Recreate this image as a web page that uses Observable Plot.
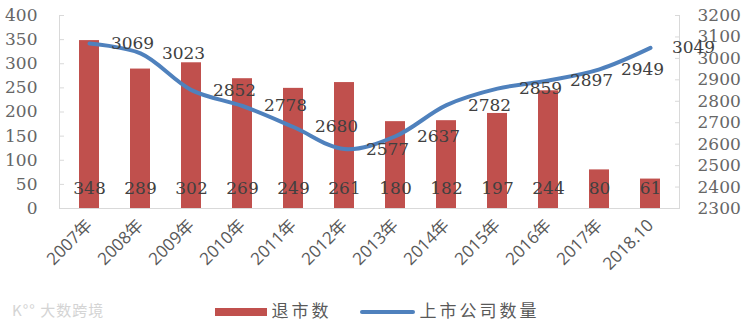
<!DOCTYPE html>
<html><head><meta charset="utf-8">
<script src="https://cdn.jsdelivr.net/npm/d3@7"></script>
<script src="https://cdn.jsdelivr.net/npm/@observablehq/plot@0.6"></script>
<style>
body{margin:0;background:#fff;}
#wrap{position:relative;width:754px;height:322px;overflow:hidden;}
#legend{position:absolute;left:0;top:295px;width:754px;height:28px;display:flex;justify-content:center;align-items:center;font-family:"Noto Sans CJK SC","Noto Sans",sans-serif;font-size:17px;color:#595959;letter-spacing:3px;}
#legend .item{display:flex;align-items:center;margin:0 14px;}
#legend .sw-bar{width:52px;height:8px;background:#C0504D;margin-right:5px;margin-top:6px;}
#legend .sw-line{width:55px;height:4px;border-radius:2px;background:#4F81BD;margin-right:5px;margin-top:6px;}
#mark{position:absolute;left:12px;top:299px;font-family:"Noto Sans CJK SC",sans-serif;font-size:15px;color:#d4d4d4;letter-spacing:1px;}
</style></head><body>
<div id="wrap"><div id="chart"></div>
<div id="legend"><div class="item"><span class="sw-bar"></span>退市数</div><div class="item"><span class="sw-line"></span>上市公司数量</div></div>
<div id="mark">K°° 大数跨境</div>
</div>
<script>
const years = ["2007年","2008年","2009年","2010年","2011年","2012年","2013年","2014年","2015年","2016年","2017年","2018.10"];
const delisted = [348,289,302,269,249,261,180,182,197,244,80,61];
const listed = [3069,3023,2852,2778,2680,2577,2637,2782,2859,2897,2949,3049];
const leftTicks = [0,50,100,150,200,250,300,350,400];
const rightTicks = [2300,2400,2500,2600,2700,2800,2900,3000,3100,3200];
const rMin = 2300, rMax = 3200, lMax = 400;
const toLeft = v => (v - rMin) / (rMax - rMin) * lMax;
const fromLeft = d => String(Math.round(rMin + d / lMax * (rMax - rMin)));
const rows = years.map((y, i) => ({year: y, d: delisted[i], l: listed[i], ly: toLeft(listed[i])}));

const serif = "DejaVu Serif, serif";
const chart = Plot.plot({
  width: 754, height: 294,
  marginTop: 15, marginBottom: 86, marginLeft: 59, marginRight: 75,
  style: {background: "#fff", overflow: "visible"},
  x: {domain: years, paddingInner: 0.61, paddingOuter: 0.3, label: null},
  y: {domain: [0, lMax], label: null},
  marks: [
    Plot.barY(rows, {x: "year", y: "d", fill: "#C0504D"}),
    Plot.frame({anchor: "left", stroke: "#d9d9d9"}),
    Plot.frame({anchor: "right", stroke: "#d9d9d9"}),
    Plot.frame({anchor: "bottom", stroke: "#d9d9d9"}),
    Plot.axisY({anchor: "left", ticks: leftTicks, tickFormat: d => String(d), tickSize: -5, tickPadding: 27, stroke: "#d9d9d9",
      fill: "#666", fontSize: 17, fontFamily: serif, label: null}),
    Plot.axisY({anchor: "right", ticks: rightTicks.map(toLeft), tickFormat: fromLeft, tickSize: -5, tickPadding: 23,
      stroke: "#d9d9d9", fill: "#666", fontSize: 17, fontFamily: serif, label: null}),
    Plot.axisX({tickRotate: -45, tickSize: 0, tickPadding: 14, fill: "#595959", fontSize: 17,
      fontFamily: "Open Sans, Noto Sans CJK SC, sans-serif", label: null}),
    Plot.line(rows, {x: "year", y: "ly", stroke: "#4F81BD", strokeWidth: 4, curve: "catmull-rom"}),
    Plot.text(rows, {x: "year", y: 0, text: d => String(d.d), dy: -20, fill: "#404040", fontSize: 17, fontFamily: serif}),
    Plot.text(rows, {x: "year", y: "ly", text: d => String(d.l), dx: 43, fill: "#404040", fontSize: 17, fontFamily: serif})
  ]
});
document.getElementById("chart").appendChild(chart);
</script>
</body></html>
